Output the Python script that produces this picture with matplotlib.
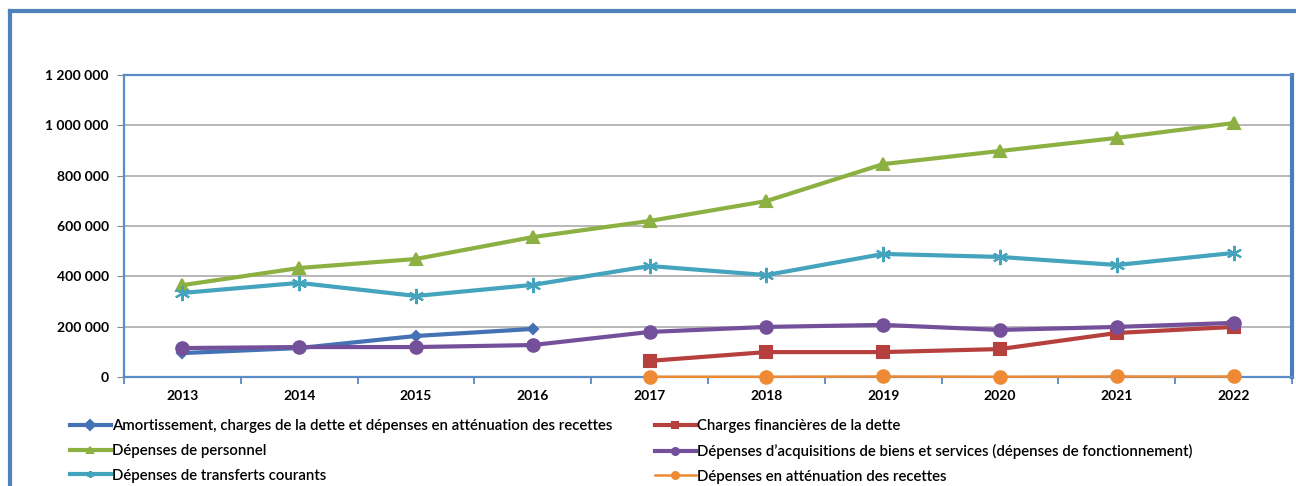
import matplotlib.pyplot as plt
from matplotlib.lines import Line2D
from matplotlib.ticker import FuncFormatter, FixedLocator
import numpy as np

plt.rcParams['font.family'] = ['Lato', 'DejaVu Sans']

years = ['2013', '2014', '2015', '2016', '2017', '2018', '2019', '2020', '2021', '2022']

amortissement = [95000, 115000, 163000, 191000, None, None, None, None, None, None]
charges_fin = [None, None, None, None, 64000, 99000, 99000, 111000, 175000, 199000]
personnel = [365000, 433000, 469000, 556000, 620000, 699000, 846000, 898000, 950000, 1009000]
acquisitions = [115000, 119000, 119000, 127000, 179000, 199000, 207000, 187000, 199000, 215000]
transferts = [334000, 374000, 322000, 366000, 441000, 405000, 489000, 477000, 445000, 493000]
attenuation = [None, None, None, None, 1000, 1000, 2000, 1000, 2000, 2000]

labels = [
    "Amortissement, charges de la dette et dépenses en atténuation des recettes",
    "Charges financières de la dette",
    "Dépenses de personnel",
    "Dépenses d\u2019acquisitions de biens et services (dépenses de fonctionnement)",
    "Dépenses de transferts courants",
    "Dépenses en atténuation des recettes",
]


def arr(v):
    return np.array([np.nan if x is None else x for x in v], dtype=float)


fig = plt.figure(figsize=(12.96, 4.86), dpi=100)
ax = fig.add_axes([124 / 1296, 1 - 377 / 486, (1292 - 124) / 1296, (377 - 75) / 486])

x = np.arange(len(years))
styles = [
    (amortissement, '#4472B4', 'D', 5, 3.0),
    (charges_fin, '#B5403D', 's', 8, 3.0),
    (personnel, '#8DB043', '^', 9, 3.0),
    (acquisitions, '#74509A', 'o', 9, 3.0),
    (transferts, '#44A3BD', (6, 2, 0), 11, 3.0),
    (attenuation, '#EE8A33', 'o', 9, 1.8),
]
handles = []
for (vals, col, mk, ms, lw), lab in zip(styles, labels):
    h, = ax.plot(x, arr(vals), color=col, lw=lw, marker=mk, ms=ms,
                 mec=col, mfc=col, mew=1.5, label=lab, zorder=3, clip_on=False)
    handles.append(h)

ax.set_xlim(-0.5, len(years) - 0.5)
ax.set_ylim(0, 1200000)
ax.set_yticks(np.arange(0, 1200001, 200000))
ax.yaxis.set_major_formatter(FuncFormatter(lambda v, p: f"{int(v):,}".replace(",", " ")))
ax.set_xticks(x)
ax.set_xticklabels(years)
ax.xaxis.set_minor_locator(FixedLocator(np.arange(-0.5, len(years), 1)))
ax.tick_params(axis='x', which='major', length=0, pad=9)
ax.tick_params(axis='x', which='minor', length=5, color='#4A7EBB', width=1.2)
ax.tick_params(axis='y', length=5, color='#888888', pad=6)
for t in ax.get_xticklabels() + ax.get_yticklabels():
    t.set_fontweight('bold')
    t.set_fontsize(10)
ax.grid(axis='y', color='#ABABAB', lw=1.2)
ax.set_axisbelow(True)

for s in ['left', 'bottom', 'top']:
    ax.spines[s].set_color('#5B8BC9')
    ax.spines[s].set_linewidth(1.6)
ax.spines['right'].set_color('#4A7EBB')
ax.spines['right'].set_linewidth(3)

# outer frame
fig.add_artist(Line2D([10 / 1296, 10 / 1296], [0, 1 - 11 / 486], color='#4F81BD', lw=3,
                      transform=fig.transFigure))
fig.add_artist(Line2D([10 / 1296, 1], [1 - 11 / 486, 1 - 11 / 486], color='#4F81BD', lw=3,
                      transform=fig.transFigure))

leg_kw = dict(frameon=False, fontsize=10.8, handlelength=2.7, handletextpad=0.1,
              labelspacing=0.72, borderaxespad=0, borderpad=0)
l1 = fig.legend([handles[0], handles[2], handles[4]], [labels[0], labels[2], labels[4]],
                loc='upper left', bbox_to_anchor=(70 / 1296, 1 - 419 / 486), **leg_kw)
l2 = fig.legend([handles[1], handles[3], handles[5]], [labels[1], labels[3], labels[5]],
                loc='upper left', bbox_to_anchor=(655 / 1296, 1 - 419 / 486), **leg_kw)
for lg in (l1, l2):
    for h in lg.legend_handles:
        h.set_markersize(5)
    for t in lg.get_texts():
        t.set_fontweight('semibold')

fig.savefig('out.png', dpi=100)
